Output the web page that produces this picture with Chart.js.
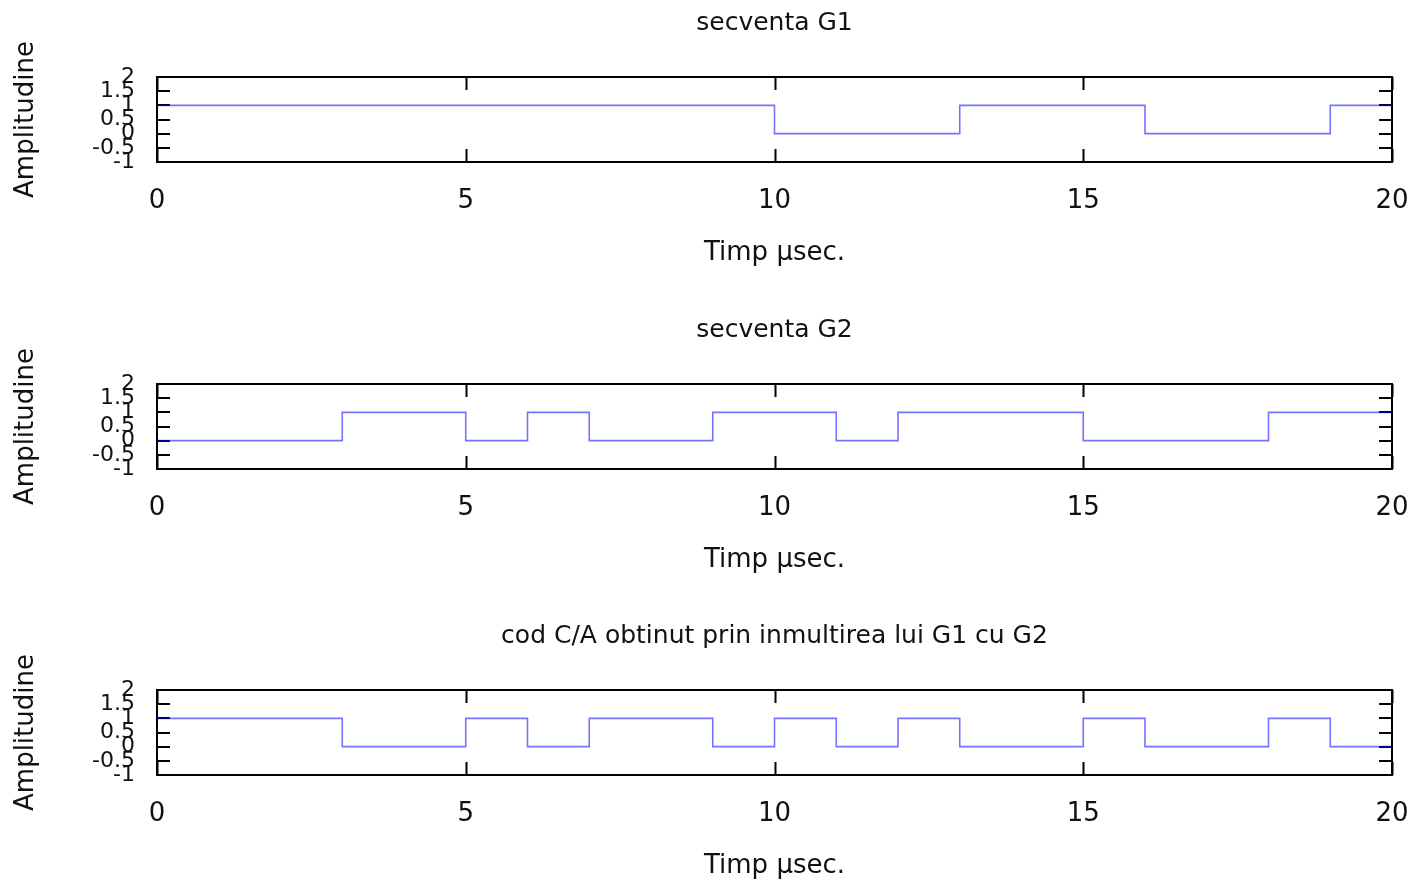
<!DOCTYPE html>
<html>
<head>
<meta charset="utf-8">
<script src="https://cdn.jsdelivr.net/npm/chart.js@4"></script>
<style>
  html, body { margin: 0; padding: 0; background: #fff; }
  body { width: 1416px; height: 885px; position: relative; overflow: hidden; }
  canvas { position: absolute; left: 0; }
</style>
</head>
<body>
<canvas id="c1" width="1416" height="272" style="top:0px"></canvas>
<canvas id="c2" width="1416" height="272" style="top:307px"></canvas>
<canvas id="c3" width="1416" height="272" style="top:613px"></canvas>
<script>
// ---- data ----
const time = [0,1,2,3,4,5,6,7,8,9,10,11,12,13,14,15,16,17,18,19,20];
const g1   = [1,1,1,1,1,1,1,1,1,1,0,0,0,1,1,1,0,0,0,1,1];
const g2   = [0,0,0,1,1,0,1,0,0,1,1,0,1,1,1,0,0,0,1,1,1];
const ca   = [1,1,1,0,0,1,0,1,1,0,1,0,1,0,0,1,0,0,1,0,0];
const titles = ['secventa G1', 'secventa G2', 'cod C/A obtinut prin inmultirea lui G1 cu G2'];
const xTicks = [0, 5, 10, 15, 20];
const yTicks = [-1, -0.5, 0, 0.5, 1, 1.5, 2];
const xLabel = 'Timp µsec.';
const yLabel = 'Amplitudine';

const FONT = 'DejaVu Sans';
const TXT = '#111';

const framePlugin = {
  id: 'frame',
  beforeDatasetsDraw(chart) {
    const {ctx, chartArea: a, scales: {x, y}} = chart;
    const L = 13;
    ctx.save();
    ctx.strokeStyle = '#000';
    ctx.lineWidth = 2;
    ctx.beginPath();
    xTicks.forEach(v => {
      const px = Math.round(x.getPixelForValue(v)) + 0.5;
      ctx.moveTo(px, a.top); ctx.lineTo(px, a.top + L);
      ctx.moveTo(px, a.bottom); ctx.lineTo(px, a.bottom - L);
    });
    yTicks.forEach(v => {
      const py = Math.round(y.getPixelForValue(v));
      ctx.moveTo(a.left, py); ctx.lineTo(a.left + L, py);
      ctx.moveTo(a.right, py); ctx.lineTo(a.right - L, py);
    });
    ctx.stroke();
    ctx.restore();
  },
  afterDatasetsDraw(chart) {
    const {ctx, chartArea: a} = chart;
    ctx.save();
    ctx.strokeStyle = '#000';
    ctx.lineWidth = 2;
    ctx.strokeRect(a.left, a.top, a.right - a.left, a.bottom - a.top);
    ctx.restore();
  }
};

function makeChart(id, values, title) {
  new Chart(document.getElementById(id), {
    type: 'line',
    data: {
      datasets: [{
        data: time.map((t, i) => ({x: t, y: values[i]})),
        stepped: 'before',
        borderColor: 'rgba(0,0,255,0.55)',
        borderWidth: 1.6,
        pointRadius: 0,
        fill: false
      }]
    },
    options: {
      responsive: false,
      devicePixelRatio: 1,
      animation: false,
      layout: { padding: { left: 0, right: 24, top: 0, bottom: 0 } },
      plugins: {
        legend: { display: false },
        tooltip: { enabled: false },
        title: {
          display: true,
          text: title,
          fullSize: false,
          color: TXT,
          font: { family: FONT, size: 25, weight: 'normal', lineHeight: 1.2 },
          padding: { top: 8, bottom: 39 }
        }
      },
      scales: {
        x: {
          type: 'linear',
          min: 0, max: 20,
          afterBuildTicks(s) { s.ticks = xTicks.map(v => ({value: v})); },
          afterFit(s) { s.height = 110; s.paddingLeft = 0; s.paddingRight = 0; },
          grid: { display: false, drawTicks: false },
          border: { display: false },
          ticks: {
            color: TXT, padding: 24, maxRotation: 0, autoSkip: false,
            font: { family: FONT, size: 26, lineHeight: 1.2 }
          },
          title: {
            display: true, text: xLabel, color: TXT,
            font: { family: FONT, size: 26, lineHeight: 1.2 },
            padding: { top: 10, bottom: 3 }
          }
        },
        y: {
          type: 'linear',
          min: -1, max: 2,
          afterBuildTicks(s) { s.ticks = yTicks.map(v => ({value: v})); },
          afterFit(s) { s.width = 157; s.paddingTop = 0; s.paddingBottom = 0; },
          grid: { display: false, drawTicks: false },
          border: { display: false },
          ticks: {
            color: TXT, padding: 22, autoSkip: false,
            font: { family: FONT, size: 22, lineHeight: 1.2 },
            callback: v => String(v)
          },
          title: {
            display: true, text: yLabel, color: TXT,
            font: { family: FONT, size: 26, lineHeight: 1.2 },
            padding: { top: 11, bottom: 0 }
          }
        }
      }
    },
    plugins: [framePlugin]
  });
}

makeChart('c1', g1, titles[0]);
makeChart('c2', g2, titles[1]);
makeChart('c3', ca, titles[2]);
</script>
</body>
</html>
